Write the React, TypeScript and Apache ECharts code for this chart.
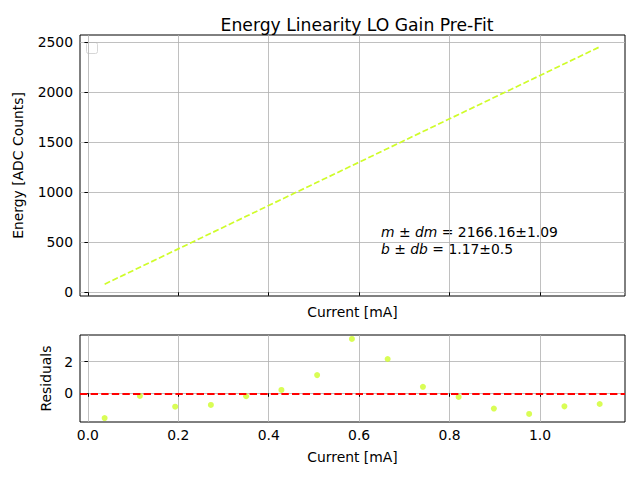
import React, { useEffect, useRef } from "react";
import * as echarts from "echarts";

const currents = [0.037, 0.115, 0.193, 0.272, 0.35, 0.428, 0.507, 0.584, 0.663, 0.741, 0.82, 0.898, 0.976, 1.054, 1.132];
const fitEnergy = [81.3, 250.3, 419.2, 590.4, 759.3, 928.3, 1099.4, 1266.2, 1437.3, 1606.3, 1777.4, 1946.4, 2115.4, 2284.4, 2453.3];
const residuals = [-1.57, -0.17, -0.85, -0.74, -0.19, 0.21, 1.15, 3.44, 2.17, 0.41, -0.23, -0.97, -1.31, -0.83, -0.68];
const xTicks = [0, 0.2, 0.4, 0.6, 0.8, 1.0];
const energyTicks = [0, 500, 1000, 1500, 2000, 2500];
const residualTicks = [0, 2];

const FONT = "DejaVu Sans";
const GREEN = "#cffc2a";

export default function App() {
  const ref = useRef<HTMLDivElement>(null);
  useEffect(() => {
    document.body.style.margin = "0";
    const chart = echarts.init(ref.current!, null, { renderer: "svg" });
    const tickStyle = { show: true, inside: false, length: 3.5, lineStyle: { color: "#000", width: 1 } };
    const splitStyle = { show: true, lineStyle: { color: "#b0b0b0", width: 0.8 } };
    const labelStyle = { fontFamily: FONT, fontSize: 13.9, color: "#000" };
    chart.setOption({
      animation: false,
      title: {
        text: "Energy Linearity LO Gain Pre-Fit",
        left: 352,
        top: 11,
        textAlign: "center",
        textStyle: { fontFamily: FONT, fontSize: 17.2, fontWeight: "normal", color: "#000" },
      },
      grid: [
        { left: 80, top: 35, width: 545, height: 261, show: true, borderColor: "#000", borderWidth: 1, backgroundColor: "transparent" },
        { left: 80, top: 335, width: 545, height: 87, show: true, borderColor: "#000", borderWidth: 1, backgroundColor: "transparent" },
      ],
      xAxis: [
        {
          type: "value", gridIndex: 0, min: -0.0175, max: 1.188,
          name: "Current [mA]", nameLocation: "middle", nameGap: 9,
          nameTextStyle: labelStyle,
          axisLine: { show: false },
          axisTick: { ...tickStyle, customValues: xTicks },
          axisLabel: { show: false, customValues: xTicks },
          splitLine: splitStyle,
        },
        {
          type: "value", gridIndex: 1, min: -0.0175, max: 1.188,
          name: "Current [mA]", nameLocation: "middle", nameGap: 28,
          nameTextStyle: labelStyle,
          axisLine: { show: false },
          axisTick: { ...tickStyle, customValues: xTicks },
          axisLabel: { ...labelStyle, margin: 6, customValues: xTicks, formatter: (v: number) => v.toFixed(1) },
          splitLine: splitStyle,
        },
      ],
      yAxis: [
        {
          type: "value", gridIndex: 0, min: -37, max: 2572,
          name: "Energy [ADC Counts]", nameLocation: "middle", nameGap: 55,
          nameTextStyle: labelStyle,
          axisLine: { show: false },
          axisTick: { ...tickStyle, customValues: energyTicks },
          axisLabel: { ...labelStyle, margin: 7, customValues: energyTicks, formatter: (v: number) => String(v) },
          splitLine: splitStyle,
        },
        {
          type: "value", gridIndex: 1, min: -1.82, max: 3.69,
          name: "Residuals", nameLocation: "middle", nameGap: 25,
          nameTextStyle: labelStyle,
          axisLine: { show: false },
          axisTick: { ...tickStyle, customValues: residualTicks },
          axisLabel: { ...labelStyle, margin: 7, customValues: residualTicks, formatter: (v: number) => String(v) },
          splitLine: splitStyle,
        },
      ],
      series: [
        {
          type: "line", xAxisIndex: 0, yAxisIndex: 0,
          data: currents.map((c, i) => [c, fitEnergy[i]]),
          showSymbol: false, symbol: "none",
          lineStyle: { color: GREEN, width: 1.7, type: [6, 2.6] },
        },
        {
          type: "scatter", xAxisIndex: 1, yAxisIndex: 1,
          data: currents.map((c, i) => [c, residuals[i]]),
          symbolSize: 6,
          itemStyle: { color: GREEN },
          markLine: {
            silent: true, symbol: "none", label: { show: false },
            lineStyle: { color: "#ff0000", width: 2, type: [7.4, 3.2] },
            data: [{ yAxis: 0 }],
          },
        },
      ],
      graphic: [
        {
          type: "rect", left: 86, top: 42,
          shape: { width: 11, height: 11, r: 2 },
          style: { fill: "rgba(255,255,255,0.8)", stroke: "#d6d6d6", lineWidth: 1 },
        },
        {
          type: "text", left: 381, top: 223,
          style: {
            text: "{i|m} ± {i|dm} = 2166.16±1.09\n{i|b} ± {i|db} = 1.17±0.5",
            fontFamily: FONT, fontSize: 13.9, fill: "#000", lineHeight: 17,
            rich: { i: { fontStyle: "italic", fontFamily: FONT, fontSize: 13.9, fill: "#000" } },
          },
        },
      ],
    });
    return () => chart.dispose();
  }, []);
  return <div ref={ref} style={{ width: 640, height: 480 }} />;
}
